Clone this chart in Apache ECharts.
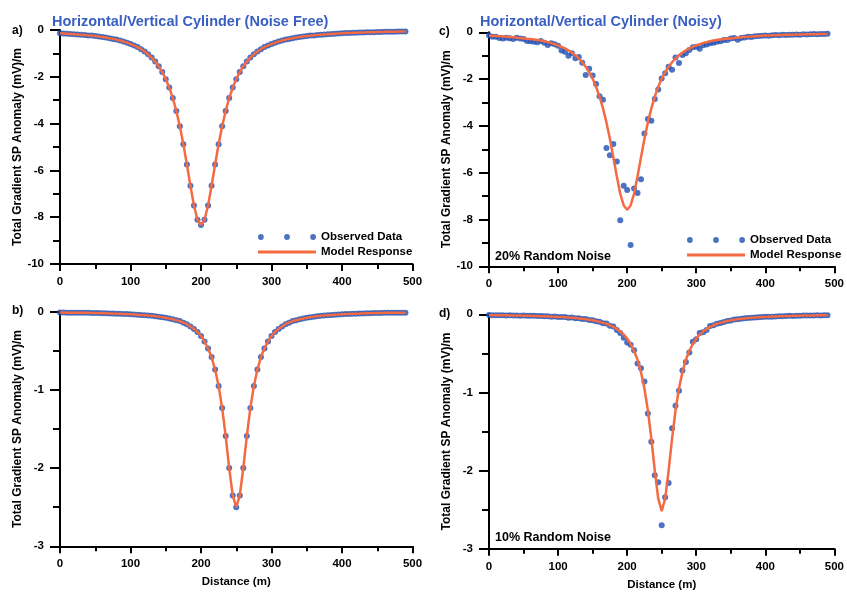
<!DOCTYPE html>
<html><head><meta charset="utf-8">
<script src="https://cdn.jsdelivr.net/npm/echarts@6/dist/echarts.min.js"></script>
<style>html,body{margin:0;padding:0;background:#fff}#c{width:847px;height:593px}</style>
</head><body><div id="c"></div>
<script>
// ---------------- data ----------------
const distance = [0,5,10,15,20,25,30,35,40,45,50,55,60,65,70,75,80,85,90,95,
 100,105,110,115,120,125,130,135,140,145,150,155,160,165,170,175,180,185,190,195,
 200,205,210,215,220,225,230,235,240,245,250,255,260,265,270,275,280,285,290,295,
 300,305,310,315,320,325,330,335,340,345,350,355,360,365,370,375,380,385,390,395,
 400,405,410,415,420,425,430,435,440,445,450,455,460,465,470,475,480,485,490];

// a) noise free (observed = model)
const aValues = [-0.14,-0.15,-0.16,-0.17,-0.18,-0.19,-0.20,-0.21,-0.23,-0.24,
 -0.26,-0.28,-0.30,-0.32,-0.35,-0.38,-0.41,-0.45,-0.49,-0.54,
 -0.60,-0.66,-0.73,-0.82,-0.92,-1.04,-1.18,-1.35,-1.55,-1.80,
 -2.10,-2.46,-2.91,-3.46,-4.11,-4.88,-5.75,-6.66,-7.50,-8.11,
 -8.33,
 -8.11,-7.50,-6.66,-5.75,-4.88,-4.11,-3.46,-2.91,-2.46,-2.10,
 -1.80,-1.55,-1.35,-1.18,-1.04,-0.92,-0.82,-0.73,-0.66,-0.60,
 -0.54,-0.49,-0.45,-0.41,-0.38,-0.35,-0.32,-0.30,-0.28,-0.26,
 -0.24,-0.23,-0.21,-0.20,-0.19,-0.18,-0.17,-0.16,-0.15,-0.14,
 -0.133,-0.126,-0.12,-0.114,-0.109,-0.104,-0.10,-0.095,-0.091,-0.087,
 -0.083,-0.080,-0.076,-0.073,-0.070,-0.068,-0.065,-0.063];

// b) noise free (observed = model)
const bValues = [-0.011,-0.011,-0.012,-0.012,-0.013,-0.013,-0.014,-0.015,-0.015,-0.016,
 -0.017,-0.018,-0.020,-0.021,-0.022,-0.024,-0.025,-0.027,-0.029,-0.031,
 -0.033,-0.035,-0.038,-0.041,-0.044,-0.048,-0.053,-0.058,-0.063,-0.070,
 -0.077,-0.086,-0.097,-0.11,-0.12,-0.14,-0.16,-0.19,-0.22,-0.26,
 -0.31,-0.38,-0.47,-0.58,-0.74,-0.95,-1.23,-1.59,-2.00,-2.35,
 -2.50,
 -2.35,-2.00,-1.59,-1.23,-0.95,-0.74,-0.58,-0.47,-0.38,-0.31,
 -0.26,-0.22,-0.19,-0.16,-0.14,-0.12,-0.11,-0.097,-0.086,-0.077,
 -0.070,-0.063,-0.058,-0.053,-0.048,-0.044,-0.041,-0.038,-0.035,-0.033,
 -0.031,-0.029,-0.027,-0.025,-0.024,-0.022,-0.021,-0.020,-0.018,-0.017,
 -0.016,-0.015,-0.015,-0.014,-0.013,-0.013,-0.012,-0.012];

// c) 20% noise
const cObserved = [-0.13,-0.19,-0.19,-0.24,-0.26,-0.23,-0.25,-0.29,-0.23,-0.27,
 -0.29,-0.37,-0.38,-0.40,-0.43,-0.37,-0.45,-0.54,-0.47,-0.51,
 -0.57,-0.78,-0.83,-1.00,-0.90,-1.11,-1.06,-1.30,-1.82,-1.56,
 -1.85,-2.21,-2.73,-2.88,-4.94,-5.25,-4.77,-5.52,-8.03,-6.56,
 -6.74,
 -9.09,-6.68,-6.87,-6.28,-4.32,-3.70,-3.78,-2.85,-2.44,-1.97,
 -1.75,-1.47,-1.60,-1.08,-1.31,-0.97,-0.90,-0.76,-0.64,-0.62,
 -0.70,-0.55,-0.52,-0.47,-0.45,-0.40,-0.38,-0.33,-0.33,-0.27,
 -0.24,-0.32,-0.24,-0.22,-0.19,-0.20,-0.17,-0.16,-0.15,-0.14,
 -0.15,-0.13,-0.12,-0.13,-0.11,-0.12,-0.10,-0.10,-0.09,-0.10,
 -0.08,-0.09,-0.08,-0.07,-0.08,-0.07,-0.07,-0.06];
const cModel = [-0.14,-0.145,-0.155,-0.165,-0.175,-0.19,-0.20,-0.215,-0.23,-0.245,
 -0.26,-0.275,-0.29,-0.31,-0.33,-0.355,-0.38,-0.42,-0.46,-0.51,
 -0.56,-0.62,-0.69,-0.77,-0.87,-0.98,-1.12,-1.28,-1.47,-1.70,
 -1.98,-2.33,-2.75,-3.25,-3.85,-4.55,-5.35,-6.15,-6.90,-7.40,
 -7.58,
 -7.40,-6.90,-6.15,-5.35,-4.55,-3.85,-3.25,-2.75,-2.33,-1.98,
 -1.70,-1.47,-1.28,-1.12,-0.98,-0.87,-0.77,-0.69,-0.62,-0.56,
 -0.51,-0.46,-0.42,-0.38,-0.355,-0.33,-0.31,-0.29,-0.275,-0.26,
 -0.245,-0.23,-0.215,-0.20,-0.19,-0.175,-0.165,-0.155,-0.145,-0.14,
 -0.135,-0.13,-0.125,-0.12,-0.115,-0.11,-0.105,-0.10,-0.097,-0.094,
 -0.091,-0.088,-0.085,-0.082,-0.079,-0.076,-0.073,-0.07];

// d) 10% noise
const dObserved = [-0.010,-0.012,-0.011,-0.013,-0.012,-0.014,-0.013,-0.016,-0.014,-0.017,
 -0.016,-0.019,-0.020,-0.019,-0.023,-0.022,-0.026,-0.025,-0.030,-0.029,
 -0.033,-0.036,-0.034,-0.043,-0.042,-0.050,-0.052,-0.060,-0.061,-0.073,
 -0.075,-0.090,-0.094,-0.115,-0.118,-0.145,-0.155,-0.20,-0.24,-0.30,
 -0.36,-0.39,-0.46,-0.63,-0.69,-0.86,-1.27,-1.63,-2.06,-2.15,
 -2.70,
 -2.34,-2.16,-1.46,-1.17,-0.98,-0.72,-0.61,-0.49,-0.35,-0.32,
 -0.24,-0.23,-0.20,-0.15,-0.14,-0.12,-0.11,-0.10,-0.085,-0.080,
 -0.068,-0.064,-0.058,-0.050,-0.048,-0.045,-0.040,-0.039,-0.036,-0.032,
 -0.031,-0.030,-0.027,-0.026,-0.024,-0.022,-0.020,-0.021,-0.018,-0.018,
 -0.016,-0.015,-0.016,-0.014,-0.013,-0.014,-0.012,-0.012];
const dModel = [-0.011,-0.011,-0.012,-0.012,-0.013,-0.013,-0.014,-0.015,-0.015,-0.016,
 -0.017,-0.018,-0.020,-0.021,-0.022,-0.024,-0.025,-0.027,-0.029,-0.031,
 -0.033,-0.035,-0.038,-0.041,-0.044,-0.048,-0.053,-0.058,-0.063,-0.070,
 -0.077,-0.086,-0.097,-0.11,-0.12,-0.14,-0.16,-0.19,-0.22,-0.26,
 -0.31,-0.38,-0.47,-0.58,-0.74,-0.95,-1.23,-1.59,-2.00,-2.36,
 -2.52,
 -2.36,-2.00,-1.59,-1.23,-0.95,-0.74,-0.58,-0.47,-0.38,-0.31,
 -0.26,-0.22,-0.19,-0.16,-0.14,-0.12,-0.11,-0.097,-0.086,-0.077,
 -0.070,-0.063,-0.058,-0.053,-0.048,-0.044,-0.041,-0.038,-0.035,-0.033,
 -0.031,-0.029,-0.027,-0.025,-0.024,-0.022,-0.021,-0.020,-0.018,-0.017,
 -0.016,-0.015,-0.015,-0.014,-0.013,-0.013,-0.012,-0.012];

const titles = ['Horizontal/Vertical Cylinder (Noise Free)', 'Horizontal/Vertical Cylinder (Noisy)'];
const panelLabels = ['a)', 'b)', 'c)', 'd)'];
const noiseLabels = ['20% Random Noise', '10% Random Noise'];
const yAxisTitle = 'Total Gradient SP Anomaly (mV)/m';
const xAxisTitle = 'Distance (m)';
const seriesNames = ['Observed Data', 'Model Response'];

// ---------------- chart ----------------
const FONT = '"Liberation Sans", Arial, Helvetica, sans-serif';
const BLUE = '#1f4fb3';
const ORANGE = '#f36a43';
const TITLE_BLUE = '#3a5fc2';
const pairs = v => distance.map((x, i) => [x, v[i]]);

const grids = [
  {left: 60, top: 30, width: 352.5, height: 234},     // a
  {left: 60, top: 311.7, width: 352.5, height: 234.6},// b
  {left: 489, top: 32.3, width: 352.7, height: 234},  // c
  {left: 489, top: 314.3, width: 352.7, height: 234.4}// d
];
const yRanges = [[-10, 0, 2], [-3, 0, 1], [-10, 0, 2], [-3, 0, 1]];

const axisLineStyle = {color: '#000', width: 2};
const labelStyle = {fontFamily: FONT, fontWeight: 'bold', fontSize: 11.5, color: '#000'};

const xAxes = grids.map((g, i) => ({
  gridIndex: i, type: 'value', min: 0, max: 500, interval: 100,
  axisLine: {onZero: false, lineStyle: axisLineStyle},
  axisTick: {length: 7, lineStyle: {color: '#000', width: 2}},
  minorTick: {show: true, splitNumber: 2, length: 5, lineStyle: {color: '#000', width: 2}},
  splitLine: {show: false},
  axisLabel: Object.assign({margin: 12}, labelStyle),
  name: (i === 1 || i === 3) ? xAxisTitle : '',
  nameLocation: 'middle', nameGap: 30,
  nameTextStyle: {fontFamily: FONT, fontWeight: 'bold', fontSize: 11.5, color: '#000'}
}));

const yAxes = grids.map((g, i) => ({
  gridIndex: i, type: 'value', min: yRanges[i][0], max: yRanges[i][1], interval: yRanges[i][2],
  axisLine: {onZero: false, lineStyle: axisLineStyle},
  axisTick: {length: 10, lineStyle: {color: '#000', width: 2}},
  minorTick: {show: true, splitNumber: 2, length: 7, lineStyle: {color: '#000', width: 2}},
  splitLine: {show: false},
  axisLabel: Object.assign({margin: 16}, labelStyle),
  name: yAxisTitle, nameLocation: 'middle', nameGap: 36,
  nameTextStyle: {fontFamily: FONT, fontWeight: 'bold', fontSize: 12, color: '#000'}
}));

const obsSets = [aValues, bValues, cObserved, dObserved];
const modSets = [aValues, bValues, cModel, dModel];
const series = [];
obsSets.forEach((v, i) => {
  series.push({
    name: seriesNames[0], type: 'scatter', xAxisIndex: i, yAxisIndex: i,
    data: pairs(v), symbol: 'circle', symbolSize: 6, color: BLUE,
    itemStyle: {color: BLUE}, z: 2
  });
  series.push({
    name: seriesNames[1], type: 'line', xAxisIndex: i, yAxisIndex: i,
    data: pairs(modSets[i]), showSymbol: false, symbol: 'none', color: ORANGE,
    lineStyle: {color: ORANGE, width: 2.5}, z: 3
  });
});

const DOTS = 'path://M0,3a3,3 0 1,0 6,0a3,3 0 1,0 -6,0M27,3a3,3 0 1,0 6,0a3,3 0 1,0 -6,0M54,3a3,3 0 1,0 6,0a3,3 0 1,0 -6,0';
const LINE = 'path://M0,0H60V3H0Z';
const legendBase = {
  orient: 'vertical', itemWidth: 58, itemHeight: 8, itemGap: 3, selectedMode: false,
  textStyle: {fontFamily: FONT, fontWeight: 'bold', fontSize: 11.5, color: '#000'},
  data: [{name: seriesNames[0], icon: DOTS}, {name: seriesNames[1], icon: LINE}]
};

const txt = (text, x, y, size, color) => ({
  type: 'text', left: x, top: y, silent: true,
  style: {text, fill: color || '#000', font: 'bold ' + size + 'px ' + FONT}
});

const option = {
  animation: false,
  backgroundColor: '#fff',
  title: [
    {text: titles[0], left: 47, top: 9, textStyle: {fontFamily: FONT, fontWeight: 'bold', fontSize: 14.5, color: TITLE_BLUE}},
    {text: titles[1], left: 475, top: 9, textStyle: {fontFamily: FONT, fontWeight: 'bold', fontSize: 14.5, color: TITLE_BLUE}}
  ],
  grid: grids,
  xAxis: xAxes,
  yAxis: yAxes,
  legend: [
    Object.assign({left: 253, top: 226}, legendBase),
    Object.assign({left: 682, top: 229}, legendBase)
  ],
  graphic: [
    txt(panelLabels[0], 12, 25, 12),
    txt(panelLabels[1], 12, 305, 12),
    txt(panelLabels[2], 439, 26, 12),
    txt(panelLabels[3], 439, 308, 12),
    txt(noiseLabels[0], 495, 250, 12.5),
    txt(noiseLabels[1], 495, 531, 12.5)
  ],
  series
};

const chart = echarts.init(document.getElementById('c'), null, {renderer: 'canvas'});
chart.setOption(option);
</script>
</body></html>
